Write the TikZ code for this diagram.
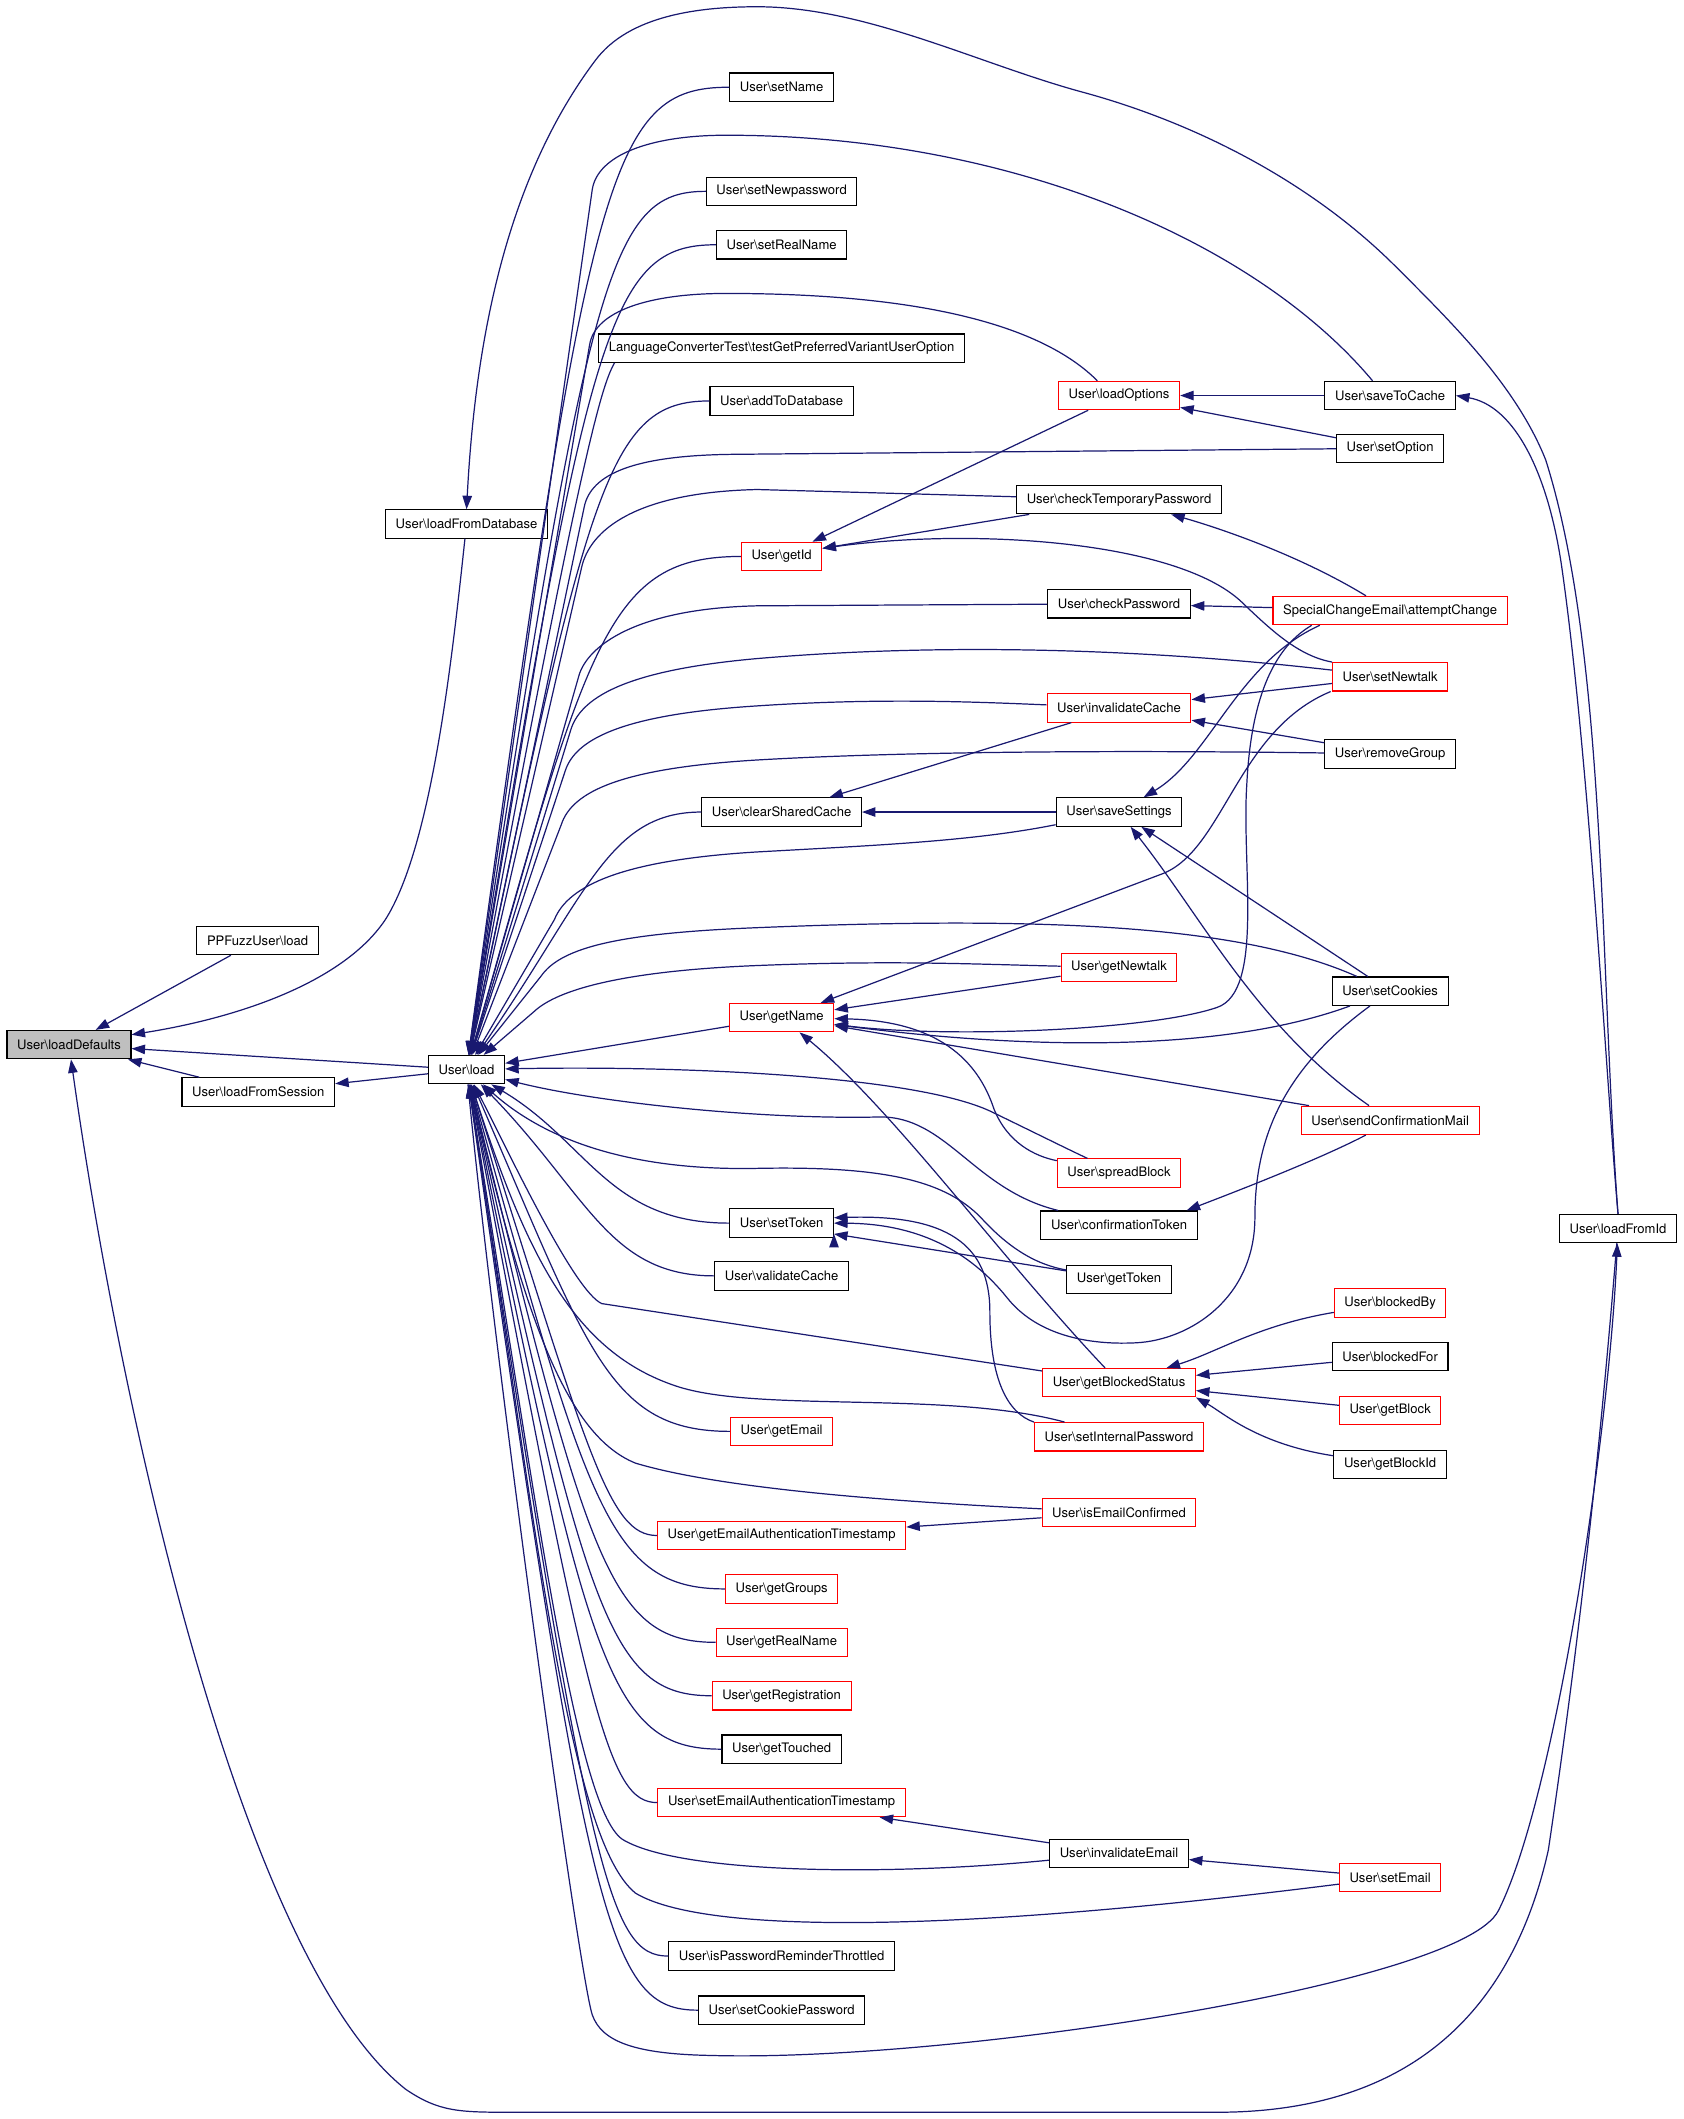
\documentclass[tikz,border=0pt]{standalone}
\usepackage{fontspec}
\setmainfont{TeX Gyre Heros}
\usepackage{xcolor}
\usepackage{tikz}
\usetikzlibrary{arrows.meta,positioning}
\definecolor{callblue}{RGB}{25,25,112}
\definecolor{redframe}{RGB}{255,0,0}
\definecolor{greyfill}{RGB}{191,191,191}
\newcommand{\bsl}{\textbackslash}

\begin{document}
\begin{tikzpicture}[x=1bp,y=-1bp,
  fnode/.style={draw=black,fill=white,line width=0.8bp,minimum height=21bp,inner xsep=7.5bp,inner ysep=0bp,font=\fontsize{9.7}{11}\selectfont},
  fnoder/.style={fnode,draw=redframe},
  fnodeg/.style={fnode,fill=greyfill},
  calledge/.style={color=callblue,draw=callblue,line width=0.9bp,{Triangle[length=10bp,width=7bp]}-},
 ]
\useasboundingbox (0,0) rectangle (1245,1567);

\node[fnodeg] (loadDefaults) at (51,772.5) {User\bsl loadDefaults};
\node[fnode] (ppfuzzLoad) at (190.5,695.5) {PPFuzzUser\bsl load};
\node[fnode] (loadFromSession) at (191,807.5) {User\bsl loadFromSession};
\node[fnode] (loadFromDatabase) at (345,387.5) {User\bsl loadFromDatabase};
\node[fnode] (load) at (345,791) {User\bsl load};

\node[fnode] (setName) at (578,64.5) {User\bsl setName};
\node[fnode] (setNewpassword) at (578,141.5) {User\bsl setNewpassword};
\node[fnode, below=17.7bp of setNewpassword] (setRealName) {User\bsl setRealName};
\node[fnode] (langConvTest) at (578,257.5) {LanguageConverterTest\bsl testGetPreferredVariantUserOption};
\node[fnode, below=17.2bp of langConvTest] (addToDatabase) {User\bsl addToDatabase};
\node[fnoder] (getId) at (578,411.5) {User\bsl getId};
\node[fnode] (clearSharedCache) at (578,600.5) {User\bsl clearSharedCache};
\node[fnoder] (getName) at (578,752.5) {User\bsl getName};
\node[fnode] (setToken) at (578,904.5) {User\bsl setToken};
\node[fnode, below=17.2bp of setToken] (validateCache) {User\bsl validateCache};
\node[fnoder] (getEmail) at (578,1058.5) {User\bsl getEmail};
\node[fnoder] (getEmailAuthTs) at (578,1135.5) {User\bsl getEmailAuthenticationTimestamp};
\node[fnoder, below=17.7bp of getEmailAuthTs] (getGroups) {User\bsl getGroups};
\node[fnoder, below=17.7bp of getGroups] (getRealName) {User\bsl getRealName};
\node[fnoder, below=17.7bp of getRealName] (getRegistration) {User\bsl getRegistration};
\node[fnode, below=17.7bp of getRegistration] (getTouched) {User\bsl getTouched};
\node[fnoder, below=17.7bp of getTouched] (setEmailAuthTs) {User\bsl setEmailAuthenticationTimestamp};
\node[fnode] (isPwReminderThrottled) at (578,1446.5) {User\bsl isPasswordReminderThrottled};
\node[fnode, below=18.2bp of isPwReminderThrottled] (setCookiePassword) {User\bsl setCookiePassword};

\node[fnoder] (loadOptions) at (827.5,292.5) {User\bsl loadOptions};
\node[fnode] (checkTmpPassword) at (827.5,369.5) {User\bsl checkTemporaryPassword};
\node[fnode] (checkPassword) at (827.5,446.5) {User\bsl checkPassword};
\node[fnoder] (invalidateCache) at (827.5,523.5) {User\bsl invalidateCache};
\node[fnode] (saveSettings) at (827.5,600.5) {User\bsl saveSettings};
\node[fnoder] (getNewtalk) at (827.5,715.5) {User\bsl getNewtalk};
\node[fnoder] (spreadBlock) at (827.5,867.5) {User\bsl spreadBlock};
\node[fnode] (confirmationToken) at (827.5,906) {User\bsl confirmationToken};
\node[fnode] (getToken) at (827.5,946) {User\bsl getToken};
\node[fnoder] (getBlockedStatus) at (827.5,1022.5) {User\bsl getBlockedStatus};
\node[fnoder] (setInternalPassword) at (827.5,1062.5) {User\bsl setInternalPassword};
\node[fnoder] (isEmailConfirmed) at (827.5,1118.5) {User\bsl isEmailConfirmed};
\node[fnode] (invalidateEmail) at (827.5,1370.5) {User\bsl invalidateEmail};

\node[fnode] (saveToCache) at (1028,292.5) {User\bsl saveToCache};
\node[fnode] (setOption) at (1028,331.5) {User\bsl setOption};
\node[fnoder] (attemptChange) at (1028,451.5) {SpecialChangeEmail\bsl attemptChange};
\node[fnoder] (setNewtalk) at (1028,500.5) {User\bsl setNewtalk};
\node[fnode] (removeGroup) at (1028,557.5) {User\bsl removeGroup};
\node[fnode] (setCookies) at (1028,733) {User\bsl setCookies};
\node[fnoder] (sendConfirmationMail) at (1028,828.5) {User\bsl sendConfirmationMail};
\node[fnoder] (blockedBy) at (1028,963.5) {User\bsl blockedBy};
\node[fnode, below=18bp of blockedBy] (blockedFor) {User\bsl blockedFor};
\node[fnoder, below=18bp of blockedFor] (getBlock) {User\bsl getBlock};
\node[fnode, below=18bp of getBlock] (getBlockId) {User\bsl getBlockId};
\node[fnoder] (setEmail) at (1028,1388.5) {User\bsl setEmail};
\node[fnode] (loadFromId) at (1196.5,908.5) {User\bsl loadFromId};

\path[calledge]
(loadDefaults) edge (ppfuzzLoad)
(loadDefaults) edge (load)
(loadDefaults) edge (loadFromSession)
(loadFromSession) edge (load)
(load) edge (getName)
(loadOptions) edge (saveToCache)
(loadOptions) edge (setOption)
(getId) edge (loadOptions)
([yshift=6bp]getId.east) edge (checkTmpPassword)
(checkPassword) edge (attemptChange)
(invalidateCache) edge (setNewtalk)
(invalidateCache) edge (removeGroup)
(clearSharedCache) edge (invalidateCache)
(clearSharedCache) edge (saveSettings)
(saveSettings) edge (setCookies)
(getName) edge (getNewtalk)
([yshift=-6bp]getName.east) edge ([xshift=-60bp]sendConfirmationMail.north)
([yshift=-8bp]setToken.east) edge (getToken)
(getBlockedStatus) edge (blockedFor)
(getBlockedStatus) edge (getBlock)
(getEmailAuthTs) edge (isEmailConfirmed)
(setEmailAuthTs) edge (invalidateEmail)
(invalidateEmail) edge (setEmail);

\draw[calledge] (loadDefaults) .. controls (180,752) and (255,725) .. (285,680) .. controls (320,625) and (335,480) .. (loadFromDatabase);
\draw[calledge] (loadFromDatabase.north) .. controls (351,262) and (371,137) .. (440,45) .. controls (465,11) and (518,5) .. (560,5) .. controls (640,5) and (723,47) .. (800,68) .. controls (885,91) and (970,135) .. (1032,197) .. controls (1074,239) and (1121,285) .. (1143,340) .. controls (1188,482) and (1183,718) .. (loadFromId.north);
\draw[calledge] (saveToCache.east) .. controls (1120,300) and (1145,350) .. (1155,420) .. controls (1175,560) and (1188,800) .. (loadFromId.north);
\draw[calledge] (loadDefaults) .. controls (90,1050) and (180,1450) .. (300,1545) .. controls (325,1562) and (340,1562) .. (380,1562) -- (900,1562) .. controls (1050,1562) and (1120,1480) .. (1145,1368) .. controls (1170,1200) and (1185,1050) .. (loadFromId);
\draw[calledge] (loadFromId) .. controls (1190,1060) and (1150,1330) .. (1108,1413) .. controls (1080,1468) and (700,1525) .. (526,1520) .. controls (470,1519) and (445,1510) .. (438,1490) .. controls (428,1460) and (365,1000) .. (load);

\draw[calledge] (load) .. controls (435,124.5) and (450,64.5) .. (setName.west);
\draw[calledge] (load) .. controls (435,201.5) and (450,141.5) .. (setNewpassword.west);
\draw[calledge] (load) .. controls (435,241) and (450,181) .. (setRealName.west);
\draw[calledge] (load) .. controls (430,330) and (445,285) .. ([xshift=12bp]langConvTest.south west);
\draw[calledge] (load) .. controls (435,356.5) and (450,296.5) .. (addToDatabase.west);
\draw[calledge] (load) .. controls (435,471.5) and (450,411.5) .. (getId.west);
\draw[calledge] (load) .. controls (435,660.5) and (450,600.5) .. (clearSharedCache.west);
\draw[calledge] (load) .. controls (435,844.5) and (450,904.5) .. (setToken.west);
\draw[calledge] (load) .. controls (435,883.5) and (450,943.5) .. (validateCache.west);
\draw[calledge] (load) .. controls (435,998.5) and (450,1058.5) .. (getEmail.west);
\draw[calledge] (load) .. controls (435,1075.5) and (450,1135.5) .. (getEmailAuthTs.west);
\draw[calledge] (load) .. controls (435,1115) and (450,1175) .. (getGroups.west);
\draw[calledge] (load) .. controls (435,1154.5) and (450,1214.5) .. (getRealName.west);
\draw[calledge] (load) .. controls (435,1194) and (450,1254) .. (getRegistration.west);
\draw[calledge] (load) .. controls (435,1233.5) and (450,1293.5) .. (getTouched.west);
\draw[calledge] (load) .. controls (435,1273) and (450,1333) .. (setEmailAuthTs.west);
\draw[calledge] (load) .. controls (435,1386.5) and (450,1446.5) .. (isPwReminderThrottled.west);
\draw[calledge] (load) .. controls (435,1426.5) and (450,1486.5) .. (setCookiePassword.west);

\draw[calledge] (load) -- (438,140) .. controls (442,115) and (480,100) .. (537,100) .. controls (750,100) and (930,180) .. ([xshift=-13bp]saveToCache.north);
\draw[calledge] (load) -- (436,255) .. controls (440,230) and (480,217) .. (537,217) .. controls (680,217) and (770,240) .. ([xshift=-16bp]loadOptions.north);
\draw[calledge] (load) -- (432,375) .. controls (437,350) and (470,337) .. (540,336) -- (setOption);
\draw[calledge] (load) -- (430,420) .. controls (436,392) and (470,364) .. (560,362) -- (checkTmpPassword);
\draw[calledge] (load) -- (428,500) .. controls (434,478) and (470,450) .. (560,448) -- (checkPassword);
\draw[calledge] (load) -- (422,540) .. controls (430,513) and (470,495) .. (560,487) .. controls (700,475) and (850,480) .. (setNewtalk);
\draw[calledge] (load) -- (418,570) .. controls (426,545) and (465,528) .. (560,522) .. controls (650,516) and (720,519) .. (invalidateCache);
\draw[calledge] (load) -- (415,610) .. controls (423,585) and (460,568) .. (560,562) .. controls (680,555) and (850,555) .. (removeGroup);
\draw[calledge] (load) -- (410,680) .. controls (420,655) and (460,636) .. (560,630) .. controls (650,625) and (720,622) .. (saveSettings);
\draw[calledge] (load) -- (400,722) .. controls (415,700) and (460,690) .. (560,686) .. controls (780,677) and (920,685) .. (setCookies);
\draw[calledge] (load) -- (395,748) .. controls (412,732) and (460,718) .. (560,714) .. controls (660,710) and (720,713) .. (getNewtalk);
\draw[calledge] (load) .. controls (500,788) and (680,795) .. (735,823) .. controls (770,840) and (790,850) .. (spreadBlock);
\draw[calledge] (load) .. controls (440,815) and (560,828) .. (650,826) .. controls (700,825) and (720,880) .. (confirmationToken);
\draw[calledge] (load) .. controls (400,840) and (460,866) .. (560,864) .. controls (660,862) and (700,875) .. (725,900) .. controls (745,922) and (765,935) .. (getToken);
\draw[calledge] (load) .. controls (380,860) and (425,955) .. (445,964) -- (getBlockedStatus);
\draw[calledge] (load) .. controls (390,930) and (425,1000) .. (500,1025) .. controls (560,1045) and (700,1028) .. (setInternalPassword);
\draw[calledge] (load) .. controls (385,960) and (415,1060) .. (470,1082) .. controls (530,1100) and (650,1110) .. (isEmailConfirmed);
\draw[calledge] (load) .. controls (395,1100) and (425,1335) .. (460,1360) .. controls (500,1385) and (650,1388) .. (invalidateEmail);
\draw[calledge] (load) .. controls (395,1120) and (420,1360) .. (470,1400) .. controls (520,1430) and (700,1430) .. (setEmail);

\draw[calledge] (getName) .. controls (660,820) and (740,930) .. (getBlockedStatus);
\draw[calledge] (getName) .. controls (700,755) and (725,790) .. (735,820) .. controls (745,845) and (765,855) .. (spreadBlock);
\draw[calledge] (getName) .. controls (750,775) and (900,780) .. (setCookies);
\draw[calledge] (getName) -- (860,646) .. controls (905,628) and (915,540) .. ([xshift=-44bp]setNewtalk.south);
\draw[calledge] (getName) .. controls (700,768) and (850,762) .. (900,745) .. controls (935,733) and (918,640) .. (922,580) .. controls (925,520) and (940,480) .. ([xshift=-58bp]attemptChange.south);
\draw[calledge] (saveSettings) .. controls (895,560) and (915,490) .. ([xshift=-52bp]attemptChange.south);
\draw[calledge] (saveSettings) .. controls (890,680) and (930,760) .. (sendConfirmationMail);
\draw[calledge] (checkTmpPassword) .. controls (900,390) and (960,410) .. (attemptChange);
\draw[calledge] ([yshift=6bp]getId.east) .. controls (720,390) and (870,400) .. (918,445) .. controls (940,466) and (960,485) .. (setNewtalk.north west);
\draw[calledge] ([yshift=4bp]setToken.east) .. controls (700,898) and (732,920) .. (732,970) .. controls (732,1020) and (745,1045) .. (setInternalPassword.north west);
\draw[calledge] (setToken.east) .. controls (690,905) and (725,935) .. (745,960) .. controls (765,985) and (800,995) .. (840,993) .. controls (880,991) and (928,960) .. (928,900) .. controls (928,840) and (950,790) .. (setCookies);
\draw[calledge] ([xshift=50bp]confirmationToken.north) .. controls (930,875) and (980,855) .. ([xshift=-18bp]sendConfirmationMail.south);
\draw[calledge] (getBlockedStatus) .. controls (900,1000) and (930,980) .. (blockedBy);
\draw[calledge] (getBlockedStatus.south east) .. controls (905,1045) and (930,1068) .. (getBlockId);

\end{tikzpicture}
\end{document}
